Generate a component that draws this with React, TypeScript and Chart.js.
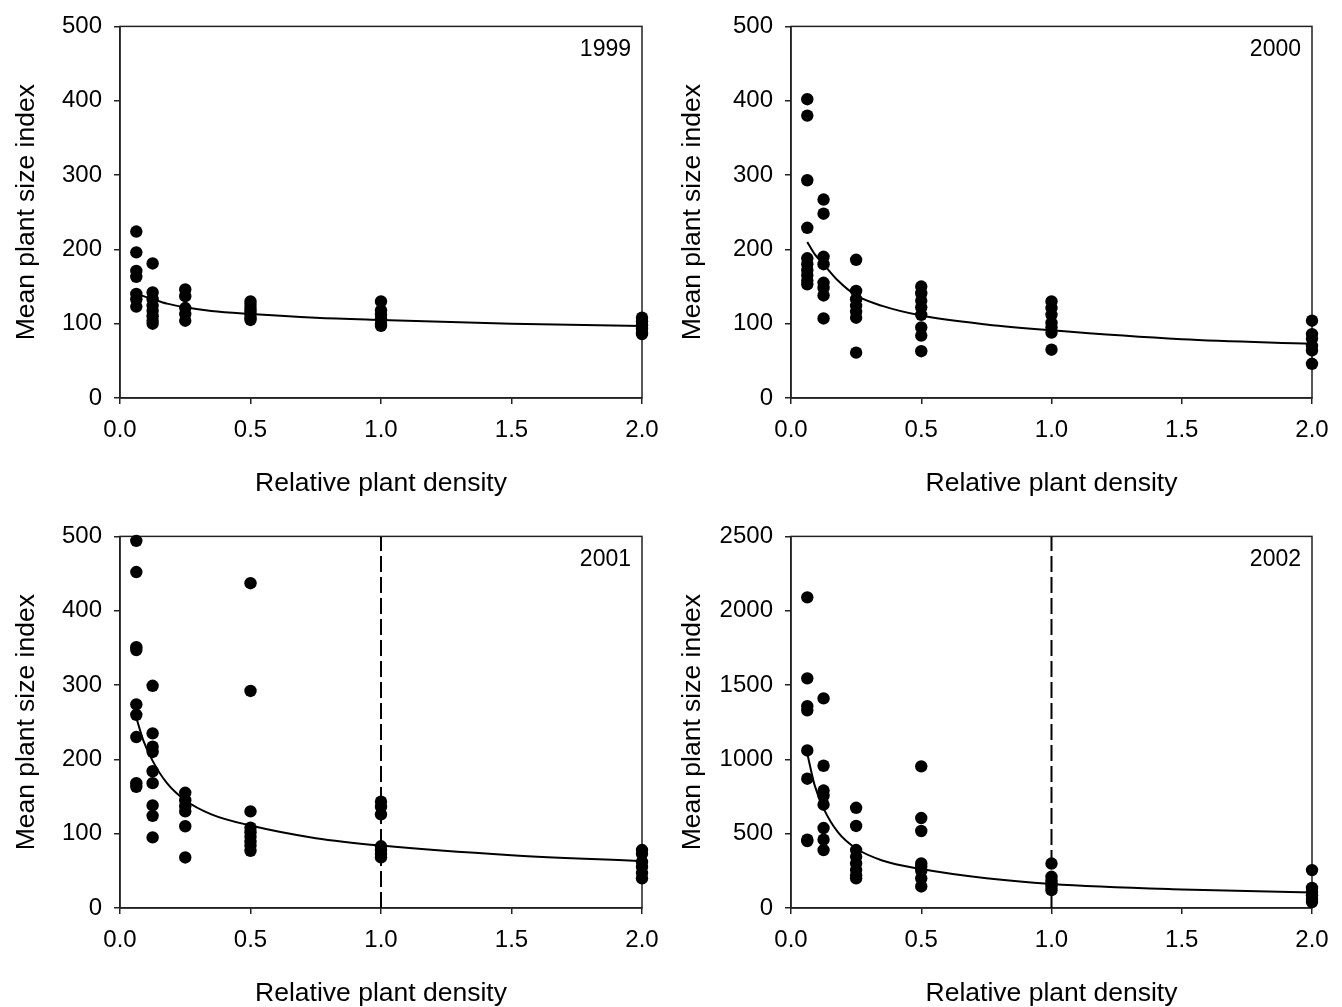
import React, { useEffect, useRef } from "react";
import { Chart, registerables } from "chart.js";

Chart.register(...registerables);

// ---------- DATA ----------
const densities = [0.0625, 0.125, 0.25, 0.5, 1, 2];
const xTicks = [0, 0.5, 1, 1.5, 2];

const size1999 = [
  [224, 196, 171, 163, 140, 133, 123],
  [181, 142, 133, 124, 117, 110, 104, 100],
  [146, 137, 121, 113, 104],
  [130, 125, 120, 116, 112, 108, 105],
  [130, 118, 112, 106, 100, 97],
  [108, 103, 98, 93, 88, 86],
];
const size2000 = [
  [402, 380, 293, 229, 188, 180, 172, 165, 158, 153],
  [267, 248, 190, 180, 155, 148, 138, 107],
  [186, 144, 133, 124, 116, 108, 61],
  [150, 141, 131, 122, 112, 95, 84, 63],
  [130, 121, 112, 101, 95, 88, 65],
  [104, 86, 80, 70, 64, 46],
];
const size2001 = [
  [494, 452, 351, 347, 274, 260, 230, 168, 163],
  [299, 235, 217, 210, 184, 168, 138, 124, 95],
  [155, 145, 137, 130, 110, 68],
  [437, 292, 130, 108, 102, 96, 89, 84, 77],
  [143, 136, 126, 83, 78, 73, 68],
  [78, 73, 62, 55, 47, 40],
];
const size2002 = [
  [2090, 1545, 1358, 1330, 1060, 870, 460, 450],
  [1410, 957, 790, 755, 695, 538, 460, 390],
  [674, 552, 390, 345, 300, 255, 220, 200],
  [953, 605, 518, 300, 280, 250, 200, 145],
  [299, 210, 185, 165, 145, 120],
  [255, 135, 110, 85, 60, 40],
];

// fitted curves
const curveX = [0.0625, 0.09, 0.125, 0.18, 0.25, 0.35, 0.5, 0.75, 1.0, 1.5, 2.0];
const curve1999 = [141, 137, 133, 127, 122, 117, 113, 108, 105, 100, 97];
const curve2000 = [210, 194, 180, 158, 138, 124, 111, 99, 91, 79, 73];
const curve2001 = [256, 225, 198, 168, 145, 126, 111, 94, 84, 71, 63];
const curve2002 = [1040, 830, 670, 510, 400, 320, 262, 200, 162, 125, 104];

const yMax1999 = 500, yStep1999 = 100;
const yMax2000 = 500, yStep2000 = 100;
const yMax2001 = 500, yStep2001 = 100;
const yMax2002 = 2500, yStep2002 = 500;

const dashedX = 1.0; // vertical dashed reference line in 2001 and 2002

const xTitle = "Relative plant density";
const yTitle = "Mean plant size index";

// ---------- COMPONENT ----------
const FONT = "'Liberation Sans', Arial, Helvetica, sans-serif";

type PanelProps = {
  year: string;
  sizes: number[][];
  curve: number[];
  yMax: number;
  yStep: number;
  dashed: boolean;
  left: number;
  top: number;
  width: number;
  height: number;
  padTop: number;
  padRight: number;
  yWidth: number;
  xHeight: number;
  xTitlePad: number;
};

function Panel(p: PanelProps) {
  const ref = useRef<HTMLCanvasElement | null>(null);
  useEffect(() => {
    if (!ref.current) return;
    const points: { x: number; y: number }[] = [];
    densities.forEach((d, i) => p.sizes[i].forEach((v) => points.push({ x: d, y: v })));
    const curvePts = curveX.map((x, i) => ({ x, y: p.curve[i] }));
    const datasets: any[] = [
      {
        type: "scatter",
        data: points,
        backgroundColor: "#000",
        borderWidth: 0,
        pointRadius: 6.2,
        pointHoverRadius: 6.2,
        clip: false,
        order: 1,
      },
      {
        type: "line",
        data: curvePts,
        showLine: true,
        borderColor: "#000",
        borderWidth: 2,
        pointRadius: 0,
        fill: false,
        cubicInterpolationMode: "monotone",
        order: 2,
      },
    ];
    if (p.dashed) {
      datasets.push({
        type: "line",
        data: [
          { x: dashedX, y: 0 },
          { x: dashedX, y: p.yMax },
        ],
        showLine: true,
        borderColor: "#000",
        borderWidth: 2,
        borderDash: [16, 5],
        pointRadius: 0,
        fill: false,
        order: 3,
      });
    }
    const framePlugin = {
      id: "frame",
      beforeDatasetsDraw(chart: any) {
        const { ctx, chartArea: a } = chart;
        ctx.save();
        ctx.strokeStyle = "#222";
        ctx.lineWidth = 1.5;
        ctx.strokeRect(a.left, a.top, a.right - a.left, a.bottom - a.top);
        ctx.restore();
      },
      afterDraw(chart: any) {
        const { ctx, chartArea: a } = chart;
        ctx.save();
        ctx.fillStyle = "#000";
        ctx.font = `23px ${FONT}`;
        ctx.textAlign = "right";
        ctx.textBaseline = "middle";
        ctx.fillText(p.year, a.right - 11, a.top + 23);
        ctx.restore();
      },
    };
    const chart = new Chart(ref.current, {
      type: "scatter",
      data: { datasets },
      plugins: [framePlugin],
      options: {
        animation: false,
        responsive: false,
        maintainAspectRatio: false,
        events: [],
        layout: { padding: { top: p.padTop, right: p.padRight, left: 0, bottom: 0 } },
        plugins: { legend: { display: false }, tooltip: { enabled: false } },
        scales: {
          x: {
            type: "linear",
            min: 0,
            max: 2,
            afterBuildTicks: (s: any) => {
              s.ticks = xTicks.map((v) => ({ value: v }));
            },
            afterFit: (s: any) => {
              s.height = p.xHeight;
            },
            ticks: {
              color: "#000",
              font: { size: 24, family: FONT },
              padding: 12,
              maxRotation: 0,
              callback: (v: any) => Number(v).toFixed(1),
            },
            grid: { drawOnChartArea: false, drawTicks: true, tickLength: 6, color: "#222", lineWidth: 1.5 },
            border: { display: true, color: "#222", width: 1.5 },
            title: {
              display: true,
              text: xTitle,
              color: "#000",
              font: { size: 26.5, family: FONT },
              padding: { top: 0, bottom: p.xTitlePad },
            },
          },
          y: {
            type: "linear",
            min: 0,
            max: p.yMax,
            ticks: {
              stepSize: p.yStep,
              color: "#000",
              font: { size: 24, family: FONT },
              padding: 12,
              callback: (v: any) => String(v),
            },
            afterFit: (s: any) => {
              s.width = p.yWidth;
            },
            grid: { drawOnChartArea: false, drawTicks: true, tickLength: 6, color: "#222", lineWidth: 1.5 },
            border: { display: true, color: "#222", width: 1.5 },
            title: {
              display: true,
              text: yTitle,
              color: "#000",
              font: { size: 26.5, family: FONT },
              padding: { top: 11, bottom: 0 },
            },
          },
        },
      } as any,
    });
    return () => chart.destroy();
  }, []);
  return (
    <canvas
      ref={ref}
      width={p.width}
      height={p.height}
      style={{ position: "absolute", left: p.left, top: p.top, width: p.width, height: p.height }}
    />
  );
}

export default function App() {
  return (
    <div
      style={{
        position: "absolute",
        left: 0,
        top: 0,
        width: 1342,
        height: 1007,
        background: "#fff",
        overflow: "hidden",
      }}
    >
      <Panel year="1999" sizes={size1999} curve={curve1999} yMax={yMax1999} yStep={yStep1999} dashed={false}
        left={0} top={0} width={671} height={510} padTop={22} padRight={29} yWidth={120} xHeight={112} xTitlePad={10} />
      <Panel year="2000" sizes={size2000} curve={curve2000} yMax={yMax2000} yStep={yStep2000} dashed={false}
        left={666} top={0} width={676} height={510} padTop={22} padRight={30} yWidth={125} xHeight={112} xTitlePad={10} />
      <Panel year="2001" sizes={size2001} curve={curve2001} yMax={yMax2001} yStep={yStep2001} dashed={true}
        left={0} top={510} width={671} height={497} padTop={23} padRight={29} yWidth={120} xHeight={99} xTitlePad={-3} />
      <Panel year="2002" sizes={size2002} curve={curve2002} yMax={yMax2002} yStep={yStep2002} dashed={true}
        left={666} top={510} width={676} height={497} padTop={23} padRight={30} yWidth={125} xHeight={99} xTitlePad={-3} />
    </div>
  );
}
